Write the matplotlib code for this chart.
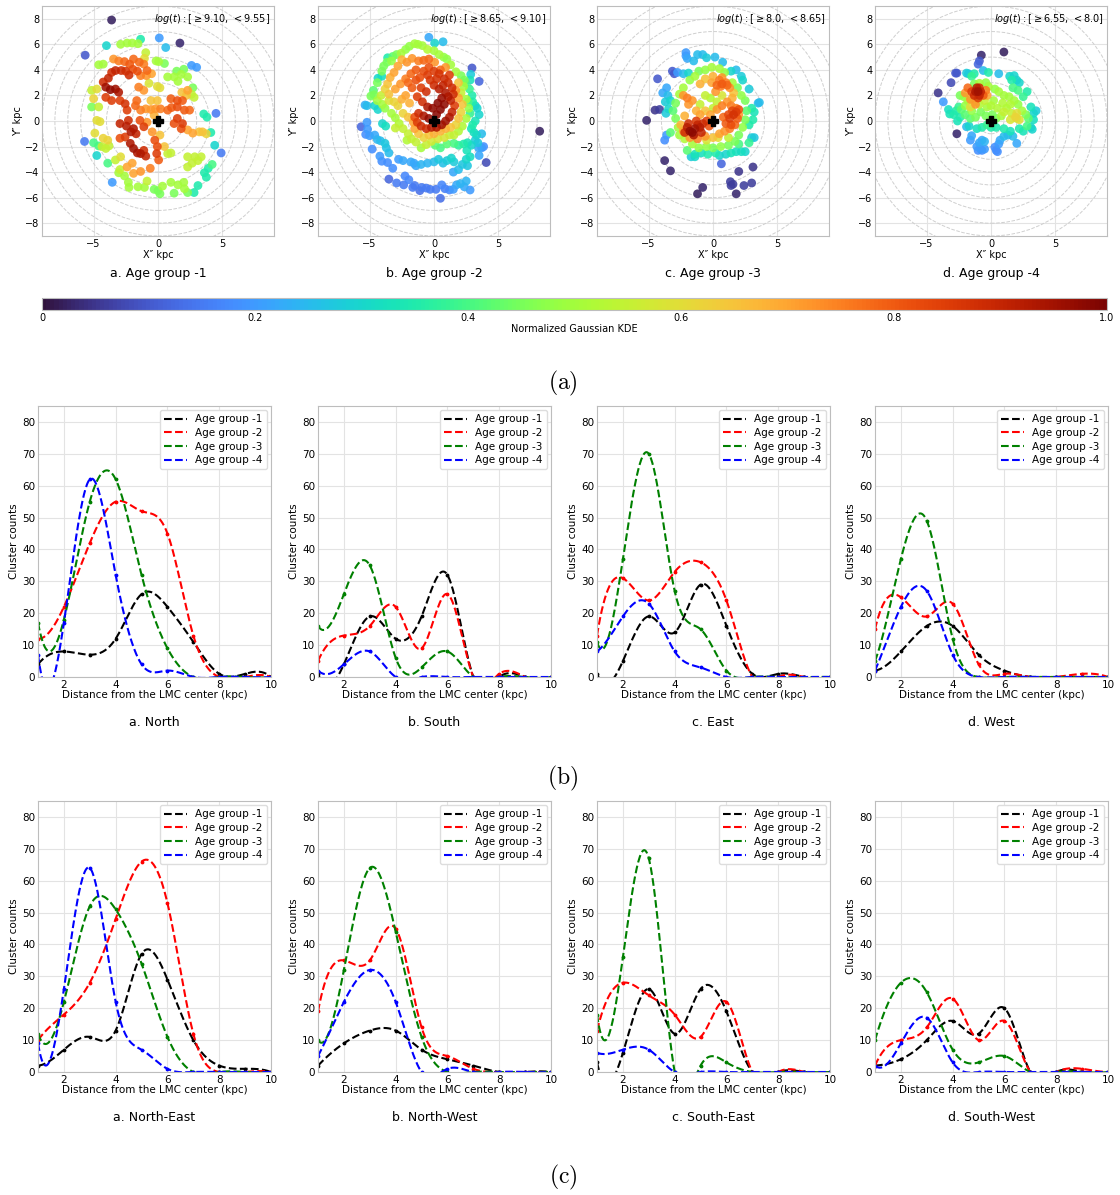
import numpy as np
import matplotlib
matplotlib.use("Agg")
import matplotlib.pyplot as plt
from matplotlib.cm import ScalarMappable
from matplotlib.colors import Normalize

# ---------------- (a) scatter data: X'' , Y'' (kpc) and normalized KDE ----------------
g1_x = [-3.6, 1.7, -5.65, 0.1, 0.6, -1.35, -4.0, 2.6, 3.0, 4.5,
        4.9, 4.4, -5.7, -4.75, -3.55, 2.8, 3.1, 3.9, 3.6, 3.75,
        4.2, 4.1, 3.55, 3.8, -3.9, -5.0, -4.6, -2.9, -2.4, -2.0,
        -1.55, -0.95, -1.05, -0.15, 0.05, 0.5, 1.45, 2.0, 0.75, 1.25,
        1.8, 1.55, 2.3, -0.7, -0.05, 0.15, 2.7, 2.8, 2.6, 1.85,
        2.2, -4.6, -4.25, -5.15, -4.75, -5.15, -4.6, -4.75, -4.5, -4.9,
        -4.25, -3.9, -4.35, -4.05, -3.8, -3.3, -2.9, -3.05, -2.6, -2.3,
        -2.95, -2.25, -1.55, -1.05, -0.85, -0.3, 0.0, 0.15, 0.35, 1.0,
        1.25, 1.55, 2.0, 2.05, 2.3, 2.3, 2.65, 3.1, 3.35, 2.85,
        2.3, 1.0, 0.75, 0.5, 0.15, 3.2, 3.45, 3.75, 2.3, 2.7,
        -4.25, -3.85, -3.6, -3.3, -2.85, -2.5, -2.25, -1.95, -1.6, -4.05,
        -3.7, -3.3, -3.05, -4.05, -3.6, -2.95, -2.55, -2.4, -3.45, -3.05,
        -2.6, -2.2, -1.9, -1.45, -1.1, -0.85, -1.35, -0.9, -0.5, -2.95,
        -2.45, -2.1, -1.7, -1.9, -2.3, -1.4, -1.1, -2.15, -1.9, -1.6,
        -1.35, -1.1, -0.95, -2.55, -2.95, -0.95, -0.55, -0.2, 0.2, 0.75,
        1.05, 1.5, 1.0, 1.5, 1.9, 2.05, 2.45, 1.5, 1.9, 1.8,
        1.25, -0.85, -0.3, -0.45, -1.35, -1.75, -0.25, -0.05, -0.1, 0.05,
        -0.6, -1.35, -1.9, -2.4, -2.0, 2.3, -1.65, -1.1, -1.5, -0.55,
        -0.05, -5.0]
g1_y = [7.9, 6.1, 5.15, 6.5, 5.75, 6.4, 5.9, 4.35, 4.2, 0.6,
        -2.5, -1.9, -1.6, -2.7, -4.8, -5.6, -5.05, -3.7, -4.05, -4.4,
        -3.4, -0.9, 0.55, 0.3, -3.3, -1.7, -1.95, 6.0, 6.1, 6.1,
        6.05, 5.35, 4.9, 4.7, 4.65, 4.5, 3.9, 4.05, 3.45, 3.45,
        3.65, 3.1, 3.45, 2.95, 2.7, 2.6, 2.6, 1.85, 2.1, 2.25,
        2.0, 4.4, 4.45, 2.4, 2.5, 1.1, 1.1, 0.05, -0.05, -0.95,
        -1.35, -1.5, -2.0, -2.15, -1.95, -3.05, -2.8, -4.05, -4.3, -4.8,
        -3.8, -5.2, -5.15, -5.2, -4.7, -5.35, -5.45, -5.7, -5.1, -4.8,
        -5.65, -5.0, -4.8, -5.3, -5.6, -3.6, -3.3, -3.1, -2.8, -2.8,
        -2.8, -2.5, -2.55, -2.0, -1.1, -0.85, -0.85, -1.0, -0.7, -0.95,
        3.05, 3.35, 3.8, 3.95, 3.95, 3.9, 3.6, 4.05, 3.9, 2.65,
        2.45, 2.5, 2.25, 1.85, 1.6, 1.6, 1.35, 0.85, 4.85, 4.7,
        4.65, 4.45, 4.85, 4.6, 4.45, 3.95, 3.55, 3.55, 3.7, -0.2,
        -0.4, -0.85, -1.0, -0.6, 0.05, 0.05, -0.45, -1.75, -2.15, -2.5,
        -2.55, -2.3, -2.75, -1.25, -1.35, 0.95, 0.9, 0.95, 0.95, 0.85,
        1.05, 1.1, 1.75, 1.6, 1.6, 0.85, 0.85, 0.2, -0.2, -0.6,
        -0.2, -0.1, 0.45, -0.85, 0.85, 1.2, -1.5, -2.0, -2.55, -3.05,
        -3.7, -3.95, -4.1, -3.6, -3.3, 2.4, 1.6, 2.4, 2.65, 1.6,
        1.6, 1.75]
g1_c = [0.02, 0.03, 0.1, 0.2, 0.25, 0.35, 0.3, 0.2, 0.2, 0.15,
        0.15, 0.3, 0.15, 0.3, 0.2, 0.35, 0.35, 0.35, 0.35, 0.35,
        0.4, 0.35, 0.35, 0.35, 0.4, 0.4, 0.4, 0.5, 0.5, 0.5,
        0.5, 0.55, 0.6, 0.5, 0.5, 0.45, 0.45, 0.45, 0.5, 0.5,
        0.5, 0.5, 0.5, 0.58, 0.6, 0.6, 0.45, 0.55, 0.55, 0.65,
        0.65, 0.5, 0.5, 0.55, 0.6, 0.45, 0.55, 0.6, 0.6, 0.6,
        0.62, 0.62, 0.55, 0.55, 0.55, 0.55, 0.6, 0.5, 0.5, 0.5,
        0.55, 0.5, 0.5, 0.5, 0.55, 0.45, 0.45, 0.45, 0.5, 0.5,
        0.45, 0.5, 0.5, 0.5, 0.45, 0.55, 0.55, 0.55, 0.55, 0.55,
        0.55, 0.55, 0.55, 0.65, 0.65, 0.65, 0.65, 0.62, 0.7, 0.7,
        0.88, 0.9, 0.88, 0.9, 0.88, 0.86, 0.88, 0.82, 0.82, 0.95,
        0.97, 0.95, 0.93, 0.85, 0.85, 0.85, 0.87, 0.85, 0.72, 0.75,
        0.78, 0.8, 0.78, 0.78, 0.75, 0.78, 0.75, 0.72, 0.7, 0.9,
        0.92, 0.93, 0.9, 0.93, 0.88, 0.82, 0.85, 0.93, 0.95, 0.93,
        0.93, 0.88, 0.9, 0.85, 0.82, 0.72, 0.72, 0.72, 0.75, 0.78,
        0.8, 0.82, 0.8, 0.82, 0.8, 0.8, 0.78, 0.85, 0.85, 0.82,
        0.82, 0.72, 0.68, 0.72, 0.75, 0.78, 0.82, 0.82, 0.85, 0.8,
        0.75, 0.72, 0.7, 0.7, 0.7, 0.7, 0.78, 0.72, 0.75, 0.65,
        0.65, 0.62]

g2_x = [8.2, 2.95, 3.5, 4.05, -5.65, -3.5,
        -2.9, -2.35, -1.95, -1.65, -1.5, -1.1, -0.95, -0.6, -0.3, 0.15,
        0.5, 0.6, 0.85, 1.2, 1.5, 1.75, 2.05, 2.35, 2.8, 2.5,
        -3.6, -3.2, -2.75, -2.4, -2.25, -1.8, -1.55, -1.4, -1.0, -0.5, 0.0,
        0.35, 0.7, 1.0, 1.35, 1.55, 1.5, 1.9, 2.2, 2.5, 2.6, 2.8,
        -5.2, -5.15, -5.3, -5.0, -4.6, -4.4, -4.15, -4.8, -3.8, -3.7,
        -3.5, -4.2, -4.05, -5.2, -5.35, -4.35, -4.6, -4.0, -3.75,
        2.9, 3.1, 3.3, 3.2, 2.9, 3.4, 3.45, 3.7, 3.85, 3.5,
        3.2, 3.35, 3.5, 3.2, 3.0, 2.8, 3.7, 2.6, 2.3, 1.9,
        1.55, 1.0, 0.5, 0.1, 2.55,
        -0.4, 0.7, 0.05, -3.6, -4.05, -4.35, 2.85, 2.8, 2.45, 2.75, 2.95, 2.65, 3.0,
        -1.9, -1.5, -1.25, -0.9, -0.5, 0.0, 0.4, 0.75, 1.0, 1.3,
        1.7, 2.1, 2.35, -2.2, -2.55, -2.9, -3.2, -3.3, -3.65, -3.9,
        -4.05, -4.4, -4.7, -4.65, -4.4, -4.0, -3.8, -3.3, -3.0, -2.7,
        -2.4, -2.0, -1.75, -1.4, -1.0, -0.6, -0.2, 0.3, 0.8, 1.2,
        1.55, 1.9, 2.2, 2.5, 2.7, 2.5, 2.1, 2.3, -4.1, -3.5,
        -3.0, -4.9, -2.1,
        -2.5, -2.1, -1.7, -1.2, -0.8, -0.4, 0.05, -2.8, -3.1, -3.4,
        -3.6, -3.8, -3.5, -3.0, -2.6, -2.2, -1.8, -1.4, -3.1, -2.8,
        -2.5, -2.2, -1.9, -2.4, -2.0, -1.6, -1.5, -1.2, -0.8, -0.4,
        0.0, 0.5, 0.9, 1.3, 1.7, 1.9, 2.1, 2.2, 1.9, 1.7,
        1.9, 0.9, 0.5,
        -0.8, -0.4, 0.0, 0.4, 0.8, 1.1, 1.4, 1.5, 1.3, 1.6,
        1.4, 1.2, 0.9, 0.6, 0.2, -0.2, -0.6, -1.0, -1.3, -1.5,
        -1.2, -0.8, -0.4, 0.2, 0.5, 0.8, 0.6, 0.9, 0.4, 0.0,
        -0.3, 1.1, 0.3, -0.1, -0.5, -0.9, -1.3, -1.0, -0.6, 0.7,
        1.2, -1.1, -0.5, 0.2, -1.7, -2.0, -1.4]
g2_y = [-0.8, 4.15, 3.1, -3.25, -0.45, -4.55,
        -4.85, -5.0, -4.6, -5.2, -5.05, -5.45, -5.2, -5.25, -5.35, -5.35,
        -6.05, -5.0, -5.3, -5.4, -5.35, -5.0, -4.9, -5.15, -5.4, -4.7,
        -3.25, -3.7, -3.0, -3.1, -4.3, -3.2, -3.3, -3.5, -3.4, -3.3, -3.2,
        -3.0, -3.3, -3.1, -2.9, -3.2, -4.0, -3.8, -3.4, -3.0, -3.5, -2.8,
        -0.1, -0.65, -1.05, -1.15, -1.1, -1.45, -1.55, -2.2, -1.75, -2.1,
        -2.5, -2.75, -3.15, 1.2, 1.25, 0.9, 1.2, -0.2, -0.4,
        -0.6, -0.9, -1.1, -1.5, -1.9, -1.7, -2.1, -2.1, -2.0, -2.7,
        1.2, 1.0, 0.5, 0.0, -0.3, 0.6, -1.0, -1.7, -1.8, -1.9,
        -1.75, -1.8, -2.1, -1.9, -2.3,
        6.55, 6.2, 6.1, 4.95, 3.5, 3.35, 3.65, 3.2, 3.0, 2.5, 2.0, 1.5, 1.5,
        5.85, 6.05, 6.0, 5.9, 5.6, 5.5, 5.2, 5.0, 4.85, 4.4,
        3.85, 3.55, 3.2, 5.6, 5.3, 5.2, 5.05, 4.7, 4.6, 4.3,
        3.9, 3.0, 2.4, 2.05, 1.6, 1.3, 1.0, 0.6, 0.25, -0.2,
        -0.6, -1.0, -1.4, -1.65, -2.1, -1.85, -1.6, -1.4, -1.3, -1.1,
        -1.1, -0.8, -0.4, 0.2, 1.0, 1.7, 2.2, 2.7, 2.0, 1.6,
        -0.55, 1.95, -1.5,
        4.8, 4.6, 4.9, 4.7, 4.75, 4.85, 4.6, 4.3, 3.8, 3.4,
        2.9, 2.5, 2.1, 2.5, 2.9, 3.3, 3.7, 4.0, 1.5, 1.2,
        1.7, 2.0, 1.4, 0.6, 0.3, -0.1, -0.6, -1.0, -1.3, -1.1,
        -1.0, -0.8, -0.6, -0.5, -0.3, 0.2, 0.7, 1.3, 1.8, 2.4,
        3.0, 4.2, 4.0,
        3.9, 4.2, 3.9, 3.7, 3.3, 3.0, 2.6, 2.1, 1.6, 1.2,
        0.7, 0.3, 0.0, -0.3, -0.5, -0.5, -0.6, -0.4, -0.1, 0.3,
        0.6, 0.4, 0.2, 0.5, 0.9, 1.3, 1.8, 2.2, 2.5, 2.8,
        3.2, 1.9, 1.4, 1.0, 1.1, 1.5, 1.9, 2.6, 2.3, 2.8,
        3.6, 3.4, 3.6, 3.3, 2.6, 3.0, 3.2]
g2_c = [0.02, 0.1, 0.12, 0.08, 0.12, 0.12,
        0.15, 0.15, 0.17, 0.15, 0.15, 0.13, 0.15, 0.15, 0.15, 0.15,
        0.13, 0.17, 0.16, 0.17, 0.2, 0.22, 0.24, 0.22, 0.2, 0.24,
        0.18, 0.18, 0.2, 0.22, 0.17, 0.22, 0.22, 0.22, 0.24, 0.24, 0.25,
        0.27, 0.26, 0.28, 0.3, 0.28, 0.22, 0.25, 0.27, 0.3, 0.27, 0.32,
        0.2, 0.2, 0.18, 0.2, 0.22, 0.24, 0.25, 0.18, 0.27, 0.26,
        0.25, 0.2, 0.18, 0.25, 0.23, 0.3, 0.3, 0.3, 0.32,
        0.33, 0.32, 0.3, 0.28, 0.3, 0.27, 0.22, 0.2, 0.18, 0.22,
        0.3, 0.3, 0.3, 0.33, 0.35, 0.38, 0.25, 0.33, 0.35, 0.37,
        0.4, 0.42, 0.4, 0.42, 0.33,
        0.22, 0.25, 0.3, 0.35, 0.32, 0.3, 0.28, 0.33, 0.4, 0.38, 0.35, 0.4, 0.35,
        0.48, 0.5, 0.5, 0.5, 0.52, 0.5, 0.5, 0.48, 0.48, 0.5,
        0.5, 0.45, 0.45, 0.48, 0.5, 0.45, 0.42, 0.48, 0.45, 0.45,
        0.45, 0.45, 0.42, 0.45, 0.5, 0.5, 0.48, 0.5, 0.5, 0.52,
        0.55, 0.55, 0.55, 0.55, 0.5, 0.55, 0.57, 0.58, 0.58, 0.55,
        0.55, 0.52, 0.52, 0.5, 0.48, 0.5, 0.55, 0.5, 0.55, 0.58,
        0.55, 0.45, 0.52,
        0.68, 0.72, 0.72, 0.75, 0.78, 0.78, 0.72, 0.7, 0.7, 0.68,
        0.65, 0.62, 0.65, 0.7, 0.72, 0.75, 0.78, 0.8, 0.62, 0.62,
        0.68, 0.7, 0.68, 0.62, 0.65, 0.7, 0.7, 0.65, 0.62, 0.65,
        0.68, 0.68, 0.68, 0.65, 0.62, 0.65, 0.62, 0.65, 0.7, 0.72,
        0.65, 0.72, 0.78,
        0.82, 0.82, 0.85, 0.87, 0.88, 0.88, 0.88, 0.88, 0.9, 0.85,
        0.9, 0.93, 0.95, 0.95, 0.93, 0.92, 0.88, 0.88, 0.85, 0.82,
        0.88, 0.93, 0.97, 0.98, 0.98, 0.97, 0.96, 0.93, 0.92, 0.88,
        0.86, 0.93, 0.98, 0.97, 0.93, 0.88, 0.85, 0.85, 0.88, 0.9,
        0.85, 0.82, 0.85, 0.87, 0.8, 0.78, 0.82]

g3_x = [-5.15, -4.5, -4.15, -3.75, -3.3, -0.8, -1.2, 1.8, 1.35, 1.55,
        1.4, 2.0, 2.4, 3.0, 3.1, 0.65, -4.3, -3.15, -3.0, -3.75, -3.6,
        -2.1, -2.1, -2.0, -1.5, -1.2, -0.8, -0.5, 0.15, 0.75, -2.75,
        -2.3, -1.9, -3.6, -3.9, -3.5, -3.3, -3.7, -3.45, -3.65, 1.4,
        1.8, 2.2, 2.3, 2.8, 3.5, 3.6, 3.0, 3.2, 3.1, 2.8,
        3.0, 3.2, 2.5, 2.2, 1.8, 1.4, 1.0, 0.5, -0.9, -1.4,
        -1.7, -1.4, -0.4, 0.2,
        -1.1, -0.6, -0.1, 0.5, 0.9, 1.5, 1.9, 2.2, 2.5, 2.6,
        2.5, 2.3, 2.0, 1.7, 1.2, 0.6, 0.0, -0.5, -1.1, -1.6,
        -2.2, -2.6, -2.7, -2.9, -3.1, -2.9, -2.6, -2.3, -1.8, -1.4,
        -0.6, -0.2, 0.3, 0.7, -1.0, 0.0, -0.5, 0.4, 1.2, 2.0,
        2.8, -3.3, -2.0,
        -2.3, -2.0, -1.9, -1.6, -1.3, -1.0, -0.6, -0.2, 0.3, 0.7,
        1.1, 1.4, 1.8, 2.0, 1.7, 1.3, 0.9, 0.5, 0.0, -0.6,
        -1.2, -1.8, -2.3, -2.5, -2.2, 0.2, 0.6, 1.0, 1.3, 1.5,
        -0.1, -0.6, -1.0, 0.0, 0.7, 1.6,
        -2.0, -1.8, -1.6, -1.4, -1.2, -1.0, -0.8, -0.5, -1.5, -2.2,
        -1.9, -0.9, -0.3, -1.3, 1.3, 1.6, 1.8, 2.0, 1.5, 1.2,
        1.0, 1.4, 1.9, 0.8, 0.3, 0.7, 1.1, 0.5]
g3_y = [0.05, 0.85, 0.9, -3.1, -3.9, -5.2, -5.7, -5.7, -4.75, -4.95,
        -5.05, -3.95, -5.05, -4.85, -3.6, -3.35, 3.3, 3.9, 3.7, -1.5, -1.1,
        5.35, 5.1, 4.9, 4.7, 5.2, 5.2, 4.95, 5.0, 4.6, 3.8,
        3.7, 3.75, 2.6, 2.2, 2.0, 1.6, 1.5, 0.95, 0.6, 3.9,
        4.0, 3.5, 3.2, 2.5, 1.4, 1.45, 1.0, 0.7, 0.1, -0.3,
        -1.3, -1.3, -2.4, -2.4, -2.4, -2.5, -2.6, -2.7, -2.5, -2.6,
        -2.8, -2.8, -2.6, -2.5,
        3.9, 4.0, 4.2, 4.1, 3.8, 3.0, 2.6, 2.0, 1.6, 0.8,
        0.1, -0.5, -1.1, -1.6, -1.9, -2.0, -2.1, -2.0, -2.1, -1.8,
        -1.4, -1.1, -0.5, 0.2, 0.8, 1.4, 2.1, 2.6, 3.2, 3.5,
        2.0, 1.8, 1.5, 2.0, 1.3, 1.0, -1.5, -1.3, -1.3, -1.8,
        -1.7, -0.9, -2.3,
        2.0, 1.8, 1.3, 1.6, 0.8, 0.5, 0.8, 0.5, 0.9, 1.2,
        1.5, 1.2, 1.0, 0.5, -0.3, -0.6, -0.8, -1.0, -1.3, -1.2,
        -1.4, -1.3, -0.8, -0.3, 0.4, 2.3, 2.7, 3.0, 2.6, 1.8,
        3.0, 3.3, 2.9, 3.5, 3.4, 2.2,
        -0.5, -0.8, -0.9, -0.6, -0.3, -0.5, -0.2, 0.0, -1.1, -0.9,
        -0.2, -0.9, -0.4, 0.0, 0.2, 0.5, 0.7, 0.9, 0.8, 0.5,
        -0.2, -0.3, 0.2, 0.3, 2.8, 2.9, 2.8, 3.2]
g3_c = [0.03, 0.05, 0.06, 0.03, 0.03, 0.03, 0.02, 0.03, 0.06, 0.06,
        0.06, 0.05, 0.06, 0.06, 0.05, 0.12, 0.1, 0.1, 0.1, 0.18, 0.2,
        0.2, 0.2, 0.22, 0.25, 0.25, 0.25, 0.28, 0.25, 0.25, 0.2,
        0.25, 0.3, 0.22, 0.22, 0.25, 0.3, 0.28, 0.3, 0.28, 0.3,
        0.25, 0.28, 0.3, 0.28, 0.25, 0.25, 0.35, 0.33, 0.35, 0.35,
        0.28, 0.27, 0.3, 0.32, 0.32, 0.33, 0.3, 0.3, 0.32, 0.33,
        0.28, 0.3, 0.35, 0.35,
        0.45, 0.48, 0.5, 0.5, 0.48, 0.5, 0.45, 0.48, 0.45, 0.42,
        0.45, 0.48, 0.45, 0.45, 0.45, 0.48, 0.45, 0.48, 0.48, 0.5,
        0.52, 0.5, 0.5, 0.45, 0.42, 0.45, 0.5, 0.5, 0.48, 0.5,
        0.55, 0.52, 0.55, 0.58, 0.55, 0.55, 0.58, 0.6, 0.55, 0.4,
        0.38, 0.42, 0.42,
        0.72, 0.75, 0.72, 0.72, 0.68, 0.7, 0.65, 0.7, 0.72, 0.75,
        0.72, 0.75, 0.75, 0.72, 0.78, 0.75, 0.72, 0.7, 0.65, 0.72,
        0.75, 0.72, 0.7, 0.68, 0.68, 0.72, 0.75, 0.75, 0.72, 0.68,
        0.7, 0.65, 0.68, 0.68, 0.72, 0.65,
        0.92, 0.97, 0.98, 0.95, 0.9, 0.92, 0.88, 0.85, 0.93, 0.88,
        0.88, 0.9, 0.82, 0.85, 0.85, 0.87, 0.85, 0.82, 0.83, 0.83,
        0.8, 0.82, 0.8, 0.78, 0.78, 0.8, 0.78, 0.76]

g4_x = [1.0, -0.75, -4.1, -2.65, -0.9, -1.0, -3.1, -2.65, -2.75, -1.9,
        -1.75, -0.6, -3.7, 0.6, 1.45, 1.8, 2.0,
        2.2, -1.0, -0.7, -0.8, -0.5, -1.1, -0.9, -0.7, -1.6, -1.5,
        -1.9, 0.3, 0.5, 0.4, 0.6, 0.7, 1.0, 1.3, 1.7, 2.0, -0.5,
        -3.3, -3.2, -2.9, -2.7, -2.5, -2.4, -2.6, -1.7, -1.1, -0.7,
        -0.3, 0.0, 0.4, 1.0, 1.5, 2.2, 2.5, 3.1, 3.2, 3.3,
        3.3, 3.5, 3.1, 2.5, 2.8, 2.1, 1.7, 1.6, -0.2, -1.3, -1.5,
        -2.4, -2.1, -1.8, -1.3, -0.9, -0.4, -0.2, 0.3, 0.6, 1.0,
        1.4, 1.8, 2.1, 2.4, 2.7, 2.9, 2.8, 2.0, 1.6, 1.2,
        0.8, 0.4, 0.1, -0.4, -0.8, -1.2, -1.6, -2.0, -2.3, -2.0,
        -1.5, 0.0, 0.9, 1.5, 0.2, -0.3, -0.9, -1.3,
        1.9, 2.2, 2.0, 1.5, 1.0, 0.5, 0.0, -0.5, -1.6,
        -2.0, -1.8, -1.5, -1.3, -1.1, -0.8, -0.6, -0.4, -1.0, -1.2,
        -0.9, -1.2, -0.9, -1.0, -1.6, -0.3]
g4_y = [5.4, 5.15, 2.2, -1.0, 4.7, 4.45, 3.0, 3.75, 3.75, 3.75,
        3.7, 3.95, 1.5, 3.7, 3.5, 3.55, 3.2,
        3.0, -2.3, -2.3, -2.2, -2.2, -2.0, -1.7, -1.5, -1.5, -1.15,
        -0.45, -2.05, -2.4, -2.3, -1.8, -1.5, -1.2, -1.1, -1.2, -1.75, -1.6,
        0.9, 0.55, 0.5, 0.8, 1.1, 0.3, 0.0, -0.4, -0.6, -0.5,
        -0.3, -0.5, -0.5, -0.6, -0.8, -0.6, -0.8, -0.5, -0.65, 0.1,
        0.6, 0.8, 1.1, 1.9, 2.3, 2.4, 2.6, 3.2, 3.8, 3.7, 3.5,
        2.0, 1.9, 1.6, 2.9, 2.95, 3.0, 2.7, 2.5, 2.3, 2.0,
        1.9, 1.6, 1.3, 0.8, 0.5, 0.2, -0.4, 0.2, 0.6, 1.0,
        0.4, 0.2, 0.5, 0.4, 0.7, 0.3, 0.2, 0.5, 0.9, 1.2,
        0.8, -0.2, 1.4, 1.3, 1.6, 1.1, 1.3, 1.5,
        0.3, 0.1, 0.6, 0.1, 0.7, 1.0, 1.2, 1.6, 1.1,
        2.2, 2.6, 2.3, 2.0, 2.6, 2.3, 2.0, 2.4, 1.8, 1.3,
        2.0, 2.3, 2.6, 2.3, 1.7, 2.0]
g4_c = [0.02, 0.03, 0.05, 0.03, 0.1, 0.12, 0.08, 0.1, 0.1, 0.28,
        0.28, 0.25, 0.2, 0.25, 0.3, 0.3, 0.3,
        0.3, 0.18, 0.18, 0.2, 0.2, 0.2, 0.22, 0.22, 0.2, 0.22,
        0.25, 0.18, 0.18, 0.18, 0.2, 0.22, 0.25, 0.25, 0.25, 0.22, 0.24,
        0.32, 0.33, 0.35, 0.35, 0.38, 0.35, 0.33, 0.3, 0.32, 0.35,
        0.38, 0.35, 0.35, 0.35, 0.33, 0.35, 0.33, 0.3, 0.3, 0.32,
        0.3, 0.28, 0.33, 0.38, 0.35, 0.4, 0.4, 0.35, 0.35, 0.35, 0.38,
        0.45, 0.48, 0.5, 0.45, 0.5, 0.48, 0.5, 0.48, 0.5, 0.5,
        0.5, 0.5, 0.48, 0.5, 0.45, 0.42, 0.4, 0.55, 0.55, 0.52,
        0.5, 0.45, 0.45, 0.45, 0.45, 0.45, 0.42, 0.42, 0.42, 0.48,
        0.48, 0.4, 0.52, 0.52, 0.5, 0.5, 0.52, 0.55,
        0.62, 0.6, 0.6, 0.58, 0.55, 0.52, 0.52, 0.55, 0.6,
        0.72, 0.78, 0.85, 0.88, 0.92, 0.9, 0.8, 0.75, 0.85, 0.72,
        0.9, 0.93, 0.88, 0.95, 0.72, 0.7]

scatter_titles = ["a. Age group -1", "b. Age group -2", "c. Age group -3", "d. Age group -4"]
age_ranges = [r"$log(t): [\geq 9.10,\, < 9.55]$", r"$log(t): [\geq 8.65,\, < 9.10]$",
              r"$log(t): [\geq 8.0,\, < 8.65]$", r"$log(t): [\geq 6.55,\, < 8.0]$"]
cbar_ticks = [0, 0.2, 0.4, 0.6, 0.8, 1.0]
cbar_ticklabels = ["0", "0.2", "0.4", "0.6", "0.8", "1.0"]

# ---------------- (b), (c) cluster counts vs distance ----------------
dist = [1, 2, 3, 4, 5, 6, 7, 8, 9, 10]
age_labels = ["Age group -1", "Age group -2", "Age group -3", "Age group -4"]
line_colors = ["black", "red", "green", "blue"]

north = [[4, 8, 7, 12, 26, 22, 11, 1, 1, 0],
         [12, 22, 42, 55, 52, 45, 13, 0, 0, 0],
         [17, 18, 55, 62, 32, 9, 0, 0, 0, 0],
         [7, 17, 62, 32, 4, 2, 0, 0, 0, 0]]
south = [[1, 4, 19, 12, 19, 32, 0, 0, 0, 0],
         [5, 13, 16, 22, 9, 26, 0, 1, 0, 0],
         [16, 26, 35, 6, 3, 8, 0, 0, 0, 0],
         [2, 4, 8, 0, 0, 0, 0, 0, 0, 0]]
east = [[1, 5, 19, 14, 29, 16, 1, 1, 0, 0],
        [13, 31, 24, 33, 36, 24, 0, 0, 0, 0],
        [11, 37, 70, 27, 15, 2, 0, 0, 0, 0],
        [8, 19, 23, 8, 3, 0, 0, 0, 0, 0]]
west = [[2, 8, 16, 16, 7, 2, 0, 0, 0, 0],
        [15, 25, 19, 23, 4, 1, 0, 0, 1, 0],
        [5, 37, 49, 12, 0, 0, 0, 0, 0, 0],
        [2, 22, 27, 7, 0, 0, 0, 0, 0, 0]]
north_east = [[2, 7, 11, 13, 37, 29, 10, 2, 1, 0],
              [10, 18, 28, 48, 66, 53, 12, 0, 0, 0],
              [12, 22, 52, 51, 34, 11, 0, 0, 0, 0],
              [9, 26, 64, 22, 7, 1, 0, 0, 0, 0]]
north_west = [[2, 9, 13, 13, 7, 4, 2, 0, 0, 0],
              [19, 35, 35, 45, 14, 5, 1, 0, 0, 0],
              [10, 32, 64, 44, 11, 0, 0, 0, 0, 0],
              [5, 22, 32, 22, 0, 1, 0, 0, 0, 0]]
south_east = [[3, 6, 26, 12, 26, 19, 0, 0, 0, 0],
              [13, 28, 24, 18, 11, 22, 0, 0, 0, 0],
              [18, 36, 67, 0, 2, 3, 0, 0, 0, 0],
              [6, 7, 7, 0, 0, 0, 0, 0, 0, 0]]
south_west = [[2, 4, 10, 16, 12, 20, 0, 0, 0, 0],
              [2, 10, 14, 23, 10, 16, 0, 0, 1, 0],
              [10, 28, 25, 7, 3, 5, 0, 0, 0, 0],
              [2, 9, 17, 3, 0, 0, 0, 0, 0, 0]]

row_b = [north, south, east, west]
row_b_titles = ["a. North", "b. South", "c. East", "d. West"]
row_c = [north_east, north_west, south_east, south_west]
row_c_titles = ["a. North-East", "b. North-West", "c. South-East", "d. South-West"]


def spline(xs, ys, n=300):
    # cubic spline, not-a-knot ends (smooth curve through the counts)
    xs = np.asarray(xs, float)
    ys = np.asarray(ys, float)
    m = len(xs)
    h = np.diff(xs)
    A = np.zeros((m, m))
    b = np.zeros(m)
    A[0, :3] = [h[1], -(h[0] + h[1]), h[0]]
    A[-1, -3:] = [h[-1], -(h[-2] + h[-1]), h[-2]]
    for i in range(1, m - 1):
        A[i, i - 1:i + 2] = [h[i - 1], 2 * (h[i - 1] + h[i]), h[i]]
        b[i] = 6 * ((ys[i + 1] - ys[i]) / h[i] - (ys[i] - ys[i - 1]) / h[i - 1])
    M = np.linalg.solve(A, b)
    xn = np.linspace(xs[0], xs[-1], n)
    k = np.clip(np.searchsorted(xs, xn) - 1, 0, m - 2)
    x0, x1, hk = xs[k], xs[k + 1], h[k]
    yn = (M[k] * (x1 - xn) ** 3 / (6 * hk) + M[k + 1] * (xn - x0) ** 3 / (6 * hk)
          + (ys[k] / hk - M[k] * hk / 6) * (x1 - xn) + (ys[k + 1] / hk - M[k + 1] * hk / 6) * (xn - x0))
    return xn, yn


W, H = 1120, 1195
fig = plt.figure(figsize=(W / 100, H / 100), dpi=100)


def px_axes(left, top, right, bottom):
    return fig.add_axes([left / W, 1 - bottom / H, (right - left) / W, (bottom - top) / H])


SPINE = "#bdbdbd"
GRID = "#e3e3e3"
cmap = plt.get_cmap("turbo")
norm = Normalize(0, 1)

# ---- row (a) ----
sc_lefts = [42, 318, 597, 875]
groups = [(g1_x, g1_y, g1_c), (g2_x, g2_y, g2_c), (g3_x, g3_y, g3_c), (g4_x, g4_y, g4_c)]
for i, (gx, gy, gc) in enumerate(groups):
    ax = px_axes(sc_lefts[i], 6, sc_lefts[i] + 232, 236)
    gx, gy, gc = np.array(gx), np.array(gy), np.array(gc)
    order = np.argsort(gc)
    for r in range(1, 11):
        ax.add_patch(plt.Circle((0, 0), r, fill=False, ls="--", lw=0.7, color="#cfcfcf", zorder=1))
    ax.scatter(gx[order], gy[order], c=gc[order], cmap=cmap, norm=norm, s=40,
               linewidths=0, alpha=0.88, zorder=3)
    ax.plot(0, 0, marker="P", color="black", markersize=7, zorder=4)
    ax.set_xlim(-9, 9)
    ax.set_ylim(-9, 9)
    ax.set_xticks([-5, 0, 5])
    ax.set_yticks(range(-8, 9, 2))
    ax.grid(True, color=GRID, lw=0.8, zorder=0)
    ax.set_axisbelow(True)
    ax.tick_params(length=0, labelsize=7, pad=2)
    for s in ax.spines.values():
        s.set_color(SPINE)
    ax.set_xlabel("X\u2033 kpc", fontsize=7, labelpad=1)
    ax.set_ylabel("Y\u2033 kpc", fontsize=7, labelpad=1)
    ax.text(0.985, 0.975, age_ranges[i], transform=ax.transAxes, ha="right", va="top", fontsize=7)
    ax.text(0.5, -0.135, scatter_titles[i], transform=ax.transAxes, ha="center", va="top", fontsize=9)

cax = px_axes(42, 298, 1107, 310)
cb = fig.colorbar(ScalarMappable(norm=norm, cmap=cmap), cax=cax, orientation="horizontal")
cb.set_ticks(cbar_ticks)
cb.set_ticklabels(cbar_ticklabels)
cb.outline.set_edgecolor(SPINE)
cax.tick_params(length=0, pad=2)
for t in cax.get_xticklabels():
    t.set_fontfamily(["Liberation Sans Narrow", "DejaVu Sans"])
    t.set_fontsize(7)
cb.set_label("Normalized Gaussian KDE", fontsize=7, labelpad=1,
             fontfamily=["Liberation Sans Narrow", "DejaVu Sans"])

fig.text(563 / W, 1 - 383 / H, r"$\mathrm{(a)}$", ha="center", va="center", fontsize=17, math_fontfamily="cm")


# ---- rows (b) and (c) ----
def line_row(top, bottom, data, titles):
    lefts = [38, 318, 597, 875]
    for i in range(4):
        ax = px_axes(lefts[i], top, lefts[i] + 233, bottom)
        for j in range(4):
            xs, ys = spline(dist, data[i][j])
            ax.plot(xs, ys, ls="--", lw=1.5, color=line_colors[j], label=age_labels[j])
            ax.plot(dist, data[i][j], ls="none", marker=".", ms=3.5, color=line_colors[j])
        ax.set_xlim(1, 10)
        ax.set_ylim(0, 85)
        ax.set_xticks([2, 4, 6, 8, 10])
        ax.set_yticks(range(0, 81, 10))
        ax.grid(True, color=GRID, lw=0.8)
        ax.set_axisbelow(True)
        ax.tick_params(length=0, labelsize=7.5, pad=2)
        for s in ax.spines.values():
            s.set_color(SPINE)
        ax.set_xlabel("Distance from the LMC center (kpc)", fontsize=7.5, labelpad=0)
        ax.set_ylabel("Cluster counts", fontsize=7.5, labelpad=2)
        ax.legend(loc="upper right", fontsize=7.5, handlelength=2.2, framealpha=1,
                  edgecolor="#dddddd", borderaxespad=0.4, labelspacing=0.35)
        ax.text(0.5, -0.144, titles[i], transform=ax.transAxes, ha="center", va="top", fontsize=9)


line_row(406, 677, row_b, row_b_titles)
fig.text(563 / W, 1 - 778 / H, r"$\mathrm{(b)}$", ha="center", va="center", fontsize=17, math_fontfamily="cm")
line_row(801, 1072, row_c, row_c_titles)
fig.text(563 / W, 1 - 1177 / H, r"$\mathrm{(c)}$", ha="center", va="center", fontsize=17, math_fontfamily="cm")

fig.savefig("out.png", dpi=100)
